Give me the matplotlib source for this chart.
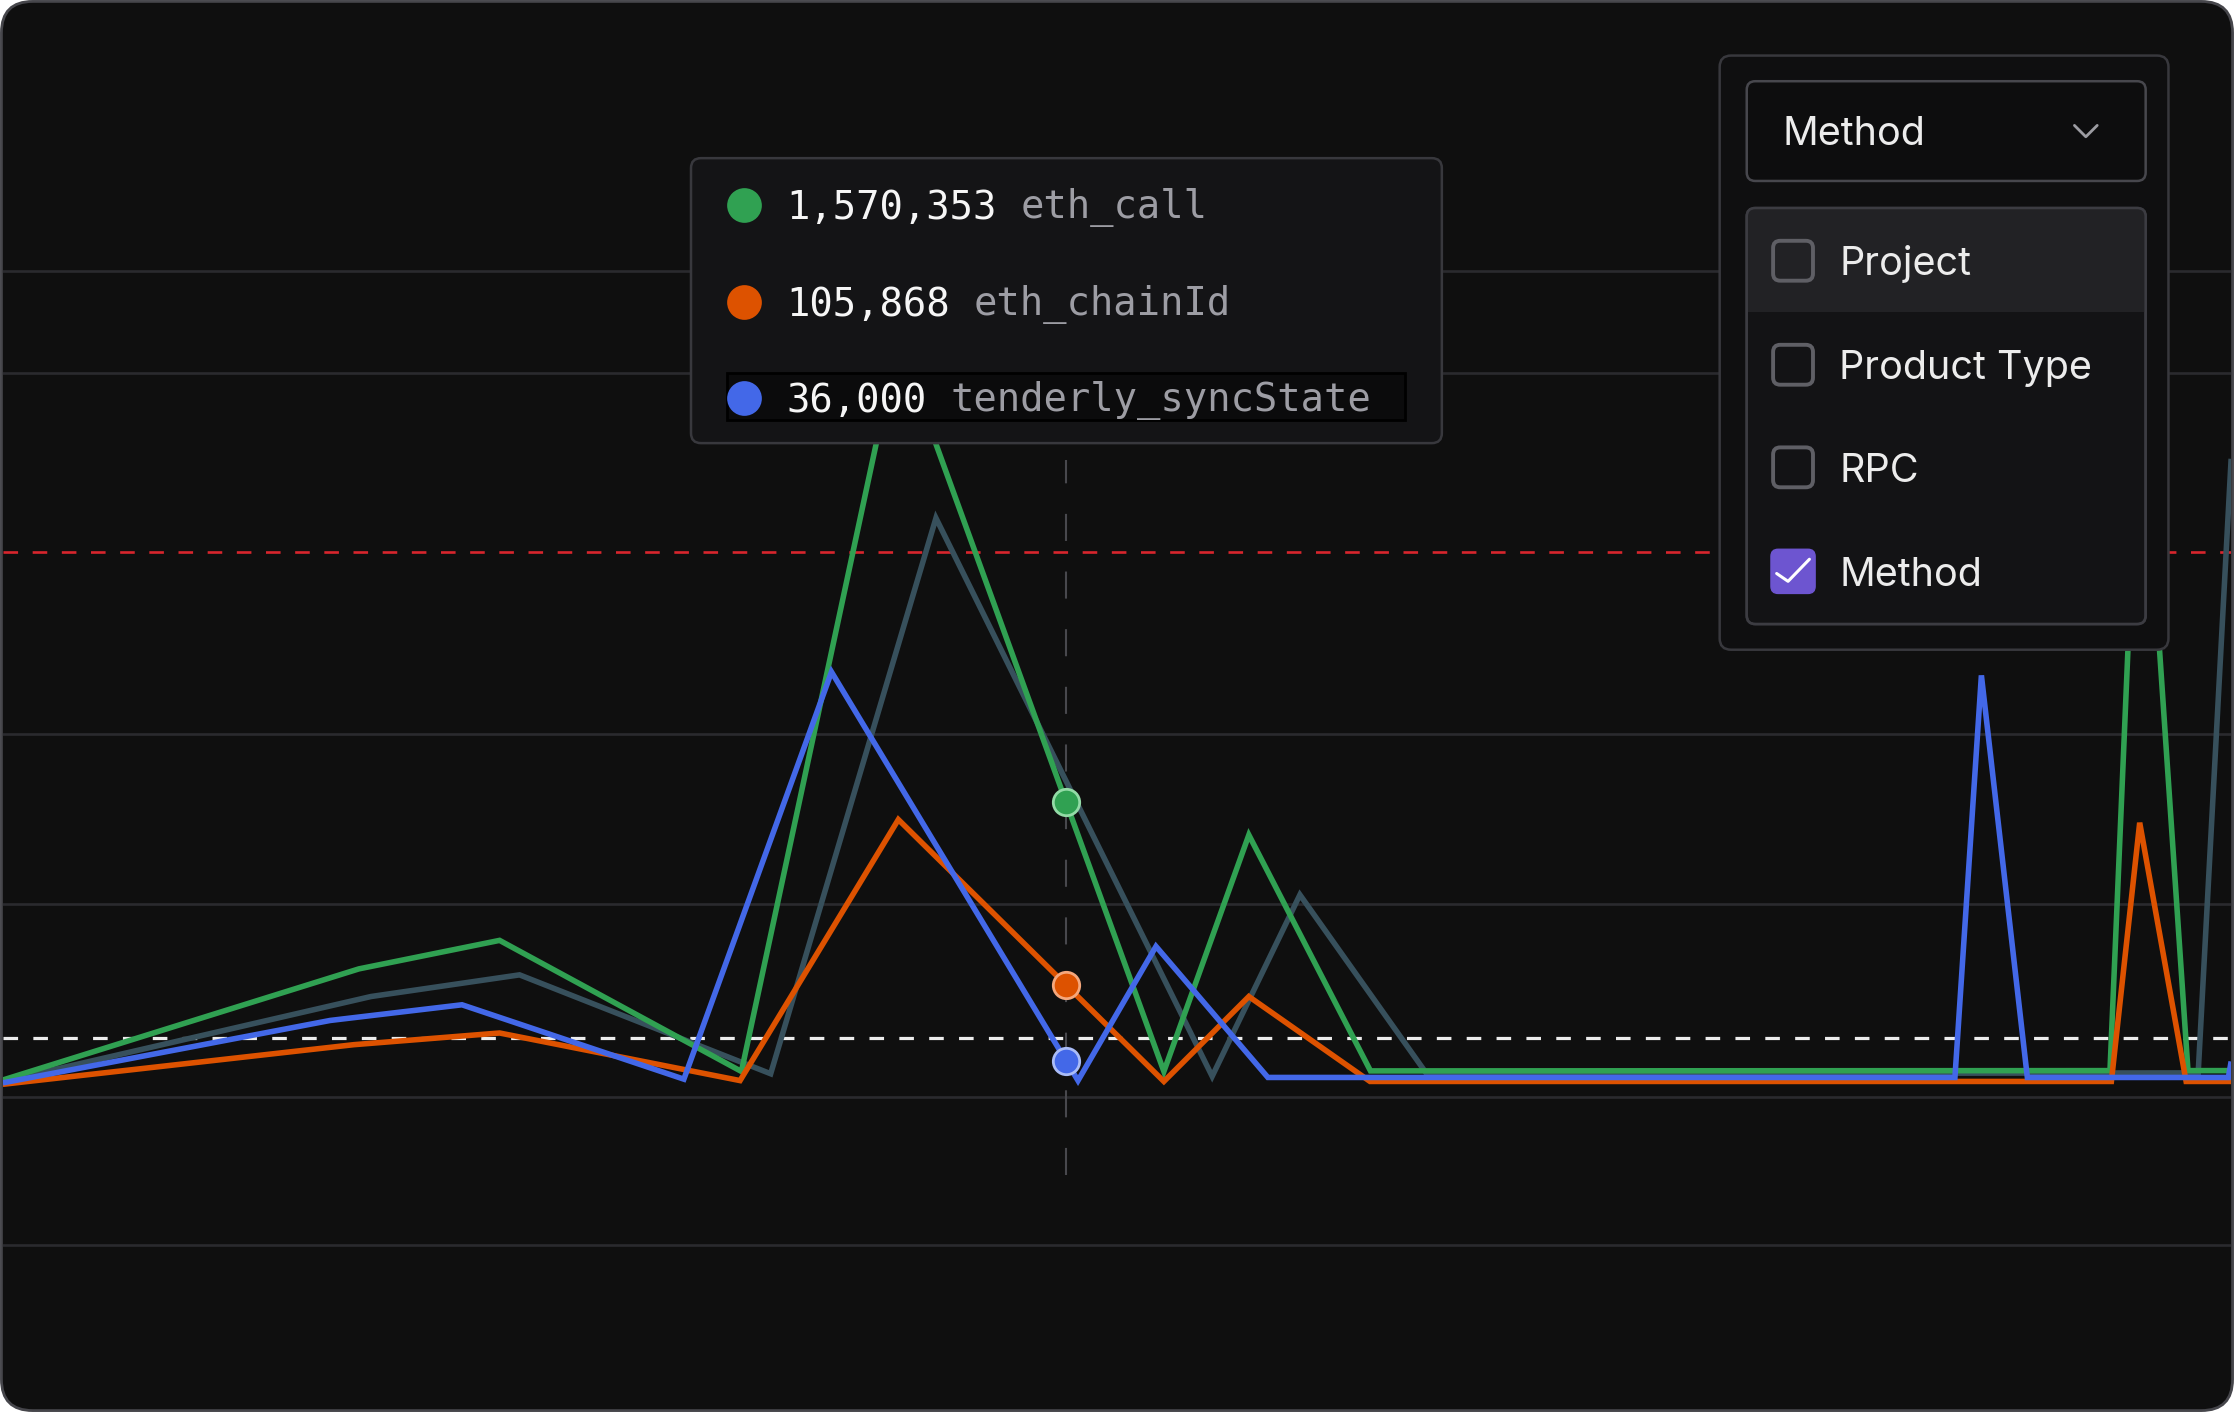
import numpy as np
import matplotlib
matplotlib.use("Agg")
import matplotlib.pyplot as plt
from matplotlib.patches import FancyBboxPatch, Rectangle

plt.rcParams["lines.scale_dashes"] = False

# ---------------- data (hours since window start, requests in thousands) ----------------
t_eth_call = [0, 7.67, 10.70, 15.91, 19.29, 25.01, 26.84, 29.46, 45.39, 46.04, 47.07, 48]
v_eth_call = [580, 970, 1070, 610, 3175, 610, 1440, 612, 613, 3095, 613, 613]

t_chain_id = [0, 7.56, 10.70, 15.88, 19.29, 25.01, 26.84, 29.45, 45.42, 46.03, 47.03, 48]
v_chain_id = [565, 704, 745, 578, 1494, 575, 873, 575, 575, 1483, 575, 575]

t_sync = [0, 7.05, 9.89, 14.67, 17.85, 23.16, 24.84, 27.25, 42.05, 42.62, 43.61, 47.94, 48]
v_sync = [570, 789, 844, 583, 2012, 578, 1049, 589, 589, 2000, 589, 589, 645]

t_other = [0, 7.93, 11.13, 16.54, 20.10, 26.05, 27.94, 30.67, 47.29, 48]
v_other = [575, 873, 949, 602, 2552, 593, 1230, 602, 605, 2760]

grid_levels = [3420, 3060, 1795, 1197, 520, 0]
limit_red = 2432
limit_white = 728
hover_t = 22.90
hover_span = [245, 2755]

tooltip_values = ["1,570,353", "105,868", "36,000"]
tooltip_labels = ["eth_call", "eth_chainId", "tenderly_syncState"]
group_by_options = ["Project", "Product Type", "RPC", "Method"]
group_by_selected = "Method"

C_GREEN = "#30a152"
C_ORANGE = "#dd5200"
C_BLUE = "#4368e8"
C_GRAY = "#37505c"
BG = "#0f0f0f"

W, H = 1568, 991  # layout units for the UI overlay (isotropic with figure)

fig = plt.figure(figsize=(22.34, 14.12), dpi=100, facecolor="white")

# background card
ax_bg = fig.add_axes([0, 0, 1, 1], zorder=0)
ax_bg.set_xlim(0, W); ax_bg.set_ylim(H, 0); ax_bg.axis("off")
card = FancyBboxPatch((1, 1), W - 2, H - 2, boxstyle="round,pad=0,rounding_size=22",
                      fc=BG, ec="#46464b", lw=2)
ax_bg.add_patch(card)

# ---------------- chart ----------------
ax = fig.add_axes([2 / W, 0, 1564 / W, 1], zorder=1)
ax.set_facecolor("none")
ax.set_xlim(0, 48)
ax.set_ylim(-585, 4370)
ax.axis("off")

for g in grid_levels:
    ax.axhline(g, color="#2a2a2e", lw=1.9, zorder=1)

l = ax.axhline(limit_red, color="#d8252d", lw=1.9, zorder=2)
l.set_dashes((10.5, 10.5))
l = ax.axhline(limit_white, color="#ececec", lw=2.3, zorder=2)
l.set_dashes((10.5, 11))

hl, = ax.plot([hover_t, hover_t], hover_span, color="#48484d", lw=1.5, zorder=2)
hl.set_dashes((19.5, 22))

kw = dict(lw=4.0, solid_joinstyle="miter", solid_capstyle="butt")
ax.plot(t_other, v_other, color=C_GRAY, zorder=3, **kw)
ax.plot(t_eth_call, v_eth_call, color=C_GREEN, zorder=4, **kw)
ax.plot(t_chain_id, v_chain_id, color=C_ORANGE, zorder=5, **kw)
ax.plot(t_sync, v_sync, color=C_BLUE, zorder=6, **kw)

for tt, vv, fc, ec in [(t_eth_call, v_eth_call, C_GREEN, "#93dba6"),
                       (t_chain_id, v_chain_id, C_ORANGE, "#f5a77c"),
                       (t_sync, v_sync, C_BLUE, "#aabcf7")]:
    ax.plot([hover_t], [np.interp(hover_t, tt, vv)], "o", ms=19, mfc=fc, mec=ec,
            mew=2, zorder=8)

# ---------------- UI overlay ----------------
ui = fig.add_axes([0, 0, 1, 1], zorder=3)
ui.set_xlim(0, W); ui.set_ylim(H, 0); ui.axis("off"); ui.set_facecolor("none")


def rbox(x0, y0, x1, y1, r, fc, ec, lw, z=1):
    p = FancyBboxPatch((x0, y0), x1 - x0, y1 - y0,
                       boxstyle=f"round,pad=0,rounding_size={r}",
                       fc=fc, ec=ec, lw=lw, zorder=z)
    ui.add_patch(p)
    return p


# tooltip
rbox(485, 111, 1012, 311, 7, "#141416", "#38383d", 1.8)
ui.add_patch(Rectangle((510, 262), 476, 33, fc="#0b0b0c", ec="#000000", lw=2, zorder=2))
row_y = [144, 212, 279]
for y, val, lab, c in zip(row_y, tooltip_values, tooltip_labels, [C_GREEN, C_ORANGE, C_BLUE]):
    ui.plot([522], [y], "o", ms=25, mfc=c, mec=c, mew=0, zorder=3)
    tv = ui.text(552, y + 10, val, family="DejaVu Sans Mono", fontsize=28,
                 color="#f6f6f6", va="baseline", ha="left", zorder=4)
    ui.annotate(lab, xy=(1, 0), xycoords=tv, xytext=(16.9, 0), textcoords="offset points",
                family="DejaVu Sans Mono", fontsize=28, color="#9d9da4",
                va="bottom", ha="left", zorder=4)

# dropdown panel
rbox(1207, 39, 1522, 456, 8, "#0f0f10", "#38383d", 1.8)
rbox(1226, 57, 1506, 127, 6, "#0d0d0e", "#47474d", 1.8, z=2)
ui.text(1251, 102, group_by_selected, family="Inter", fontsize=28.5, color="#ececec",
        va="baseline", ha="left", zorder=3)
ui.plot([1456, 1464, 1472], [88, 96, 88], color="#9c9ca2", lw=2, zorder=3,
        solid_capstyle="round", solid_joinstyle="round")

lst = rbox(1226, 146, 1506, 438, 6, "#131315", "#3c3c42", 1.8, z=2)
hi = Rectangle((1226, 146), 280, 73, fc="#222225", ec="none", zorder=2.5)
ui.add_patch(hi)
hi.set_clip_path(lst)
rbox(1226, 146, 1506, 438, 6, "none", "#3c3c42", 1.8, z=2.6)

item_y = [183, 256, 328, 401]
for y, name in zip(item_y, group_by_options):
    if name == group_by_selected:
        rbox(1243, y - 15.5, 1274, y + 15.5, 5, "#6d55d0", "#6d55d0", 1.0, z=3)
        ui.plot([1247, 1255, 1270], [y + 1.5, y + 7, y - 8.5], color="white", lw=2.2,
                zorder=4, solid_capstyle="round", solid_joinstyle="round")
    else:
        rbox(1244.5, y - 14, 1272.5, y + 14, 5, "none", "#5f5f65", 2.8, z=3)
    ui.text(1291, y + 10, name, family="Inter", fontsize=28.5, color="#ececec",
            va="baseline", ha="left", zorder=4)

fig.savefig("out.png", dpi=100, facecolor="white")
